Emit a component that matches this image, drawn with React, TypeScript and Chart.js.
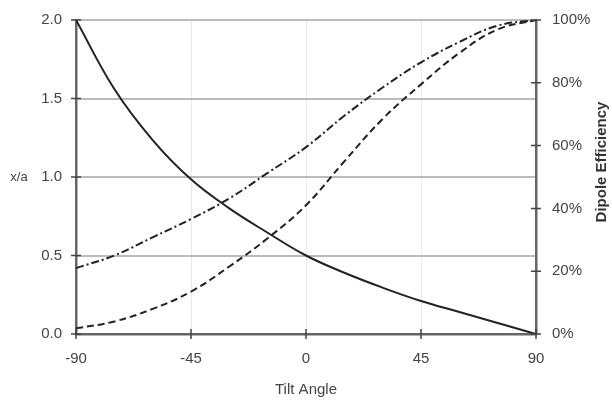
import React, { useEffect, useRef } from "react";
import { Chart, registerables } from "chart.js";

Chart.register(...registerables);

const angles = [-90, -75, -60, -45, -30, -15, 0, 15, 30, 45, 60, 75, 90];
const xOverA = [2.0, 1.56, 1.235, 0.985, 0.8, 0.645, 0.5, 0.39, 0.295, 0.21, 0.14, 0.07, 0.0];
const efficiencyDashDot = [21, 25, 30.8, 36.6, 43.2, 51.3, 59.5, 69.5, 78.5, 86.5, 93, 98.2, 100];
const efficiencyDashed = [1.8, 4, 8, 13.5, 21.5, 30.5, 41, 55, 68.5, 79.5, 89.5, 97, 100];

const xTicks = [-90, -45, 0, 45, 90];
const leftTicks = [0, 0.5, 1.0, 1.5, 2.0];
const rightTicks = [0, 20, 40, 60, 80, 100];

const FONT = "'Liberation Sans', Arial, Helvetica, sans-serif";

const overlayPlugin = {
  id: "overlay",
  afterDraw(chart: any) {
    const ctx = chart.ctx;
    const { left, right, bottom } = chart.chartArea;
    const y = chart.scales.y;
    const y2 = chart.scales.y2;
    const x = chart.scales.x;
    ctx.save();
    ctx.strokeStyle = "#444";
    ctx.lineWidth = 1.5;
    ctx.beginPath();
    leftTicks.forEach((v) => {
      const py = y.getPixelForValue(v);
      ctx.moveTo(left - 5, py);
      ctx.lineTo(left + 5, py);
    });
    rightTicks.forEach((v) => {
      const py = y2.getPixelForValue(v);
      ctx.moveTo(right - 5, py);
      ctx.lineTo(right + 5, py);
    });
    xTicks.forEach((v) => {
      const px = x.getPixelForValue(v);
      ctx.moveTo(px, bottom - 5);
      ctx.lineTo(px, bottom + 5);
    });
    ctx.stroke();

    ctx.fillStyle = "#444";
    ctx.font = `13px ${FONT}`;
    ctx.textAlign = "center";
    ctx.textBaseline = "middle";
    ctx.fillText("x/a", 19, y.getPixelForValue(1.0));

    ctx.translate(602, 162);
    ctx.rotate(-Math.PI / 2);
    ctx.font = `bold 15px ${FONT}`;
    ctx.fillStyle = "#333";
    ctx.fillText("Dipole Efficiency", 0, 0);
    ctx.restore();
  },
};

export default function App() {
  const ref = useRef<HTMLCanvasElement | null>(null);

  useEffect(() => {
    if (!ref.current) return;
    const toPts = (vals: number[]) => angles.map((a, i) => ({ x: a, y: vals[i] }));
    const chart = new Chart(ref.current, {
      type: "line",
      data: {
        datasets: [
          {
            label: "x/a",
            data: toPts(xOverA),
            yAxisID: "y",
            borderColor: "#222",
            borderWidth: 2,
            pointRadius: 0,
            tension: 0.4,
            fill: false,
          },
          {
            label: "Efficiency A",
            data: toPts(efficiencyDashDot),
            yAxisID: "y2",
            borderColor: "#222",
            borderWidth: 2,
            borderDash: [8, 3, 2, 3],
            pointRadius: 0,
            tension: 0.4,
            fill: false,
          },
          {
            label: "Efficiency B",
            data: toPts(efficiencyDashed),
            yAxisID: "y2",
            borderColor: "#222",
            borderWidth: 2,
            borderDash: [7, 4],
            pointRadius: 0,
            tension: 0.4,
            fill: false,
          },
        ],
      },
      options: {
        responsive: false,
        animation: false,
        layout: { padding: { top: 14, left: 0, right: 0, bottom: 0 } },
        plugins: { legend: { display: false }, tooltip: { enabled: false } },
        scales: {
          x: {
            type: "linear",
            min: -90,
            max: 90,
            afterBuildTicks: (s: any) => {
              s.ticks = xTicks.map((v) => ({ value: v }));
            },
            afterFit: (s: any) => {
              s.height = 70;
            },
            ticks: {
              color: "#444",
              font: { family: FONT, size: 15 },
              padding: 11,
              maxRotation: 0,
            },
            grid: {
              color: "#e8e8e8",
              lineWidth: 1,
              tickLength: 5,
              tickColor: "rgba(0,0,0,0)",
            },
            border: { color: "#666", width: 2.5 },
            title: {
              display: true,
              text: "Tilt Angle",
              color: "#444",
              font: { family: FONT, size: 15 },
              padding: { top: 0, bottom: 5 },
            },
          },
          y: {
            type: "linear",
            position: "left",
            min: 0,
            max: 2,
            afterBuildTicks: (s: any) => {
              s.ticks = leftTicks.map((v) => ({ value: v }));
            },
            afterFit: (s: any) => {
              s.width = 76;
            },
            ticks: {
              color: "#444",
              font: { family: FONT, size: 15 },
              padding: 9,
              callback: (v: any) => Number(v).toFixed(1),
            },
            grid: {
              color: "#bbbbbb",
              lineWidth: 2,
              tickLength: 5,
              tickColor: "rgba(0,0,0,0)",
            },
            border: { color: "#666", width: 2.5 },
          },
          y2: {
            type: "linear",
            position: "right",
            min: 0,
            max: 100,
            afterBuildTicks: (s: any) => {
              s.ticks = rightTicks.map((v) => ({ value: v }));
            },
            afterFit: (s: any) => {
              s.width = 76;
            },
            ticks: {
              color: "#444",
              font: { family: FONT, size: 15 },
              padding: 11,
              callback: (v: any) => `${v}%`,
            },
            grid: {
              drawOnChartArea: false,
              tickLength: 5,
              tickColor: "rgba(0,0,0,0)",
            },
            border: { color: "#666", width: 2.5 },
          },
        },
      },
      plugins: [overlayPlugin],
    });
    return () => chart.destroy();
  }, []);

  return (
    <div style={{ position: "absolute", left: 0, top: 0, width: 612, height: 404, background: "#fff" }}>
      <canvas ref={ref} width={612} height={404} />
    </div>
  );
}
